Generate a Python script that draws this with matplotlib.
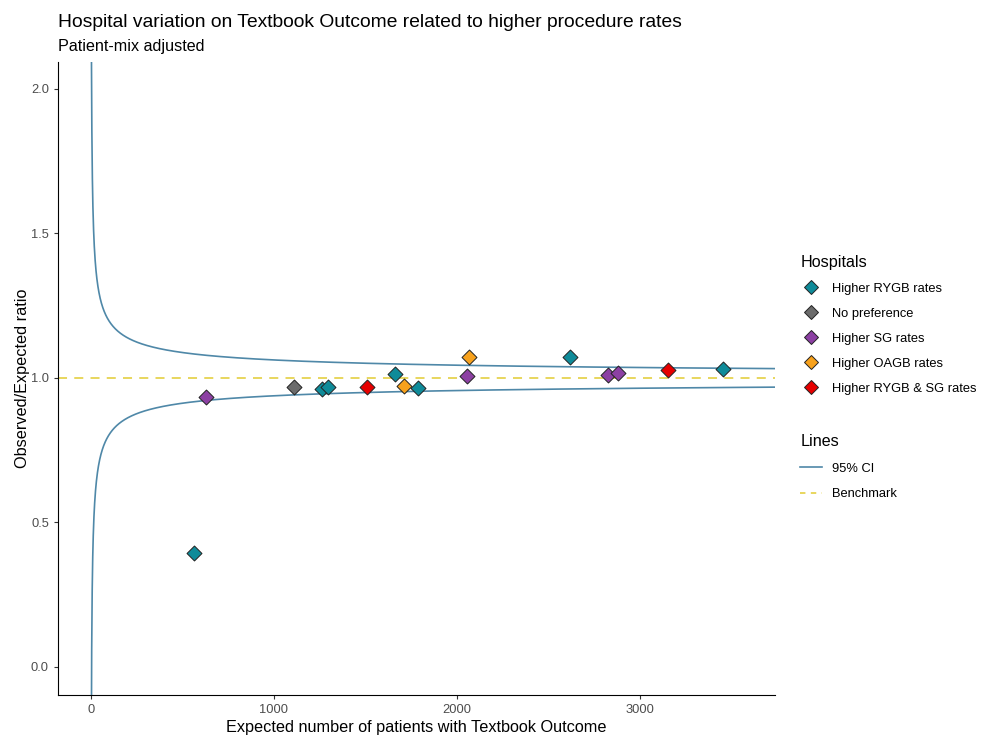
import numpy as np
import matplotlib
matplotlib.use("Agg")
import matplotlib.pyplot as plt
from matplotlib.lines import Line2D

plt.rcParams['font.family'] = ['Liberation Sans', 'DejaVu Sans']

# hospitals: expected number with textbook outcome, observed/expected ratio, group
expected = [563, 628, 1109, 1262, 1295, 1508, 1661, 1710, 1787, 2055, 2066,
            2617, 2825, 2880, 3153, 3454]
oe_ratio = [0.394, 0.934, 0.969, 0.962, 0.969, 0.969, 1.014, 0.972, 0.965,
            1.007, 1.073, 1.073, 1.010, 1.017, 1.028, 1.031]
group = ["Higher RYGB rates", "Higher SG rates", "No preference",
         "Higher RYGB rates", "Higher RYGB rates", "Higher RYGB & SG rates",
         "Higher RYGB rates", "Higher OAGB rates", "Higher RYGB rates",
         "Higher SG rates", "Higher OAGB rates", "Higher RYGB rates",
         "Higher SG rates", "Higher SG rates", "Higher RYGB & SG rates",
         "Higher RYGB rates"]

group_names = ["Higher RYGB rates", "No preference", "Higher SG rates",
               "Higher OAGB rates", "Higher RYGB & SG rates"]
group_colors = ["#0F8B99", "#6B6B6B", "#8C40A3", "#F7A11C", "#E60000"]

benchmark = 1.0
z = 1.96

fig = plt.figure(figsize=(9.89, 7.37), dpi=100)
ax = fig.add_axes([0.0586, 0.057, 0.725, 0.859])

# funnel limits
n = np.linspace(0.5, 3800, 4000)
half = z / np.sqrt(n)
ci_col = "#4F88A8"
ax.plot(n, benchmark + half, color=ci_col, lw=1.2, zorder=2)
ax.plot(n, benchmark - half, color=ci_col, lw=1.2, zorder=2)
ax.axhline(benchmark, color="#E6D351", lw=1.3, ls=(0, (5, 4)), zorder=1)

cmap = dict(zip(group_names, group_colors))
for g in group_names:
    xs = [e for e, gg in zip(expected, group) if gg == g]
    ys = [r for r, gg in zip(oe_ratio, group) if gg == g]
    ax.scatter(xs, ys, marker="D", s=58, color=cmap[g], edgecolor="#222222",
               linewidth=0.7, zorder=3)

ax.set_xlim(-180, 3738)
ax.set_ylim(-0.097, 2.093)
ax.set_xticks([0, 1000, 2000, 3000])
ax.set_yticks([0.0, 0.5, 1.0, 1.5, 2.0])
ax.set_yticklabels(["0.0", "0.5", "1.0", "1.5", "2.0"])
for s in ["top", "right"]:
    ax.spines[s].set_visible(False)
ax.tick_params(axis="both", labelsize=9.3, colors="#333333", labelcolor="#4D4D4D",
               length=3, width=0.8)
ax.set_xlabel("Expected number of patients with Textbook Outcome", fontsize=11.7,
              labelpad=3)
ax.set_ylabel("Observed/Expected ratio", fontsize=11.7, labelpad=0.5)

fig.text(0.0586, 0.970, "Hospital variation on Textbook Outcome related to higher procedure rates",
         fontsize=13.9, va="center", ha="left")
fig.text(0.0586, 0.937, "Patient-mix adjusted", fontsize=11.6, va="center", ha="left")

h1 = [Line2D([], [], marker="D", ls="", markersize=7.5, markerfacecolor=c,
             markeredgecolor="#222222", markeredgewidth=0.7) for c in group_colors]
leg1 = fig.legend(h1, group_names, loc="upper left", bbox_to_anchor=(0.804, 0.661),
                  frameon=False, title="Hospitals", fontsize=9.3, title_fontsize=11.6,
                  alignment="left", labelspacing=1.0, handletextpad=0.8,
                  borderaxespad=0, handlelength=1.65)

h2 = [Line2D([], [], color=ci_col, lw=1.2),
      Line2D([], [], color="#E6D351", lw=1.3, ls=(0, (3, 3)))]
leg2 = fig.legend(h2, ["95% CI", "Benchmark"], loc="upper left",
                  bbox_to_anchor=(0.804, 0.418), frameon=False, title="Lines",
                  fontsize=9.3, title_fontsize=11.6, alignment="left",
                  labelspacing=1.05, handletextpad=0.8, borderaxespad=0,
                  handlelength=1.65)

fig.savefig("out.png", dpi=100)
